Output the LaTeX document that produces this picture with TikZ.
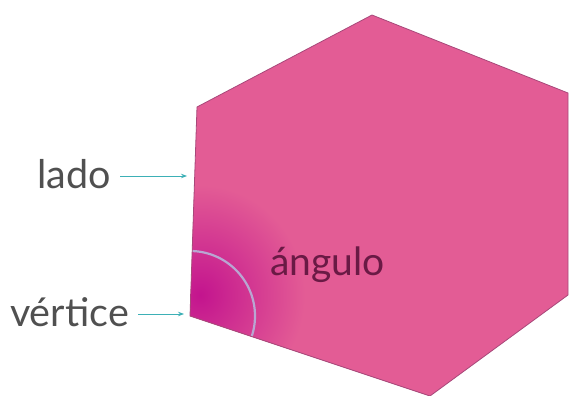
\documentclass[tikz,border=0pt]{standalone}
\usepackage{fontspec}
\setmainfont{Lato}
\usetikzlibrary{arrows.meta}
\definecolor{hexpink}{HTML}{E35C95}
\definecolor{hexdark}{HTML}{C3148E}
\definecolor{hexedge}{HTML}{A8487A}
\definecolor{arcline}{HTML}{B9A6D2}
\definecolor{arrowteal}{HTML}{3DB0B6}
\definecolor{labelgray}{HTML}{505050}
\definecolor{angtext}{HTML}{6A1A45}
\tikzset{
  lbl/.style={font=\fontsize{39.5}{42}\selectfont, text=labelgray, inner sep=0pt},
  pointer/.style={draw=arrowteal, line width=0.9pt, -{Stealth[length=6pt,width=4.5pt]}},
}
\begin{document}
\begin{tikzpicture}[x=1pt,y=-1pt]
\useasboundingbox (0,0) rectangle (571,396);
\coordinate (T) at (372,15);
\coordinate (UR) at (568,93);
\coordinate (LR) at (568,295);
\coordinate (B) at (430,396);
\coordinate (LL) at (190,316);
\coordinate (UL) at (197,107);
% fill
\fill[hexpink] (T) -- (UR) -- (LR) -- (B) -- (LL) -- (UL) -- cycle;
\begin{scope}
\clip (T) -- (UR) -- (LR) -- (B) -- (LL) -- (UL) -- cycle;
\shade[inner color=hexdark, outer color=hexpink] (200,295) ellipse [x radius=105, y radius=110];
\draw[arcline, line width=2.2pt] (LL) circle [radius=65];
\end{scope}
\draw[hexedge, line width=0.8pt, line join=miter] (T) -- (UR) -- (LR) -- (B) -- (LL) -- (UL) -- cycle;
% labels
\node[lbl, anchor=east] (lado) at (111,174) {lado};
\node[lbl, anchor=east] (vert) at (129,312) {vértice};
\node[font=\fontsize{39}{42}\selectfont, text=angtext, inner sep=0pt, anchor=west] (ang) at (270,265) {ángulo};
\coordinate (ladoP) at (187,176);
\coordinate (vertP) at (184,314);
\draw[pointer] ([xshift=9pt]lado.east |- ladoP) -- (ladoP);
\draw[pointer] ([xshift=9pt]vert.east |- vertP) -- (vertP);
\end{tikzpicture}
\end{document}
